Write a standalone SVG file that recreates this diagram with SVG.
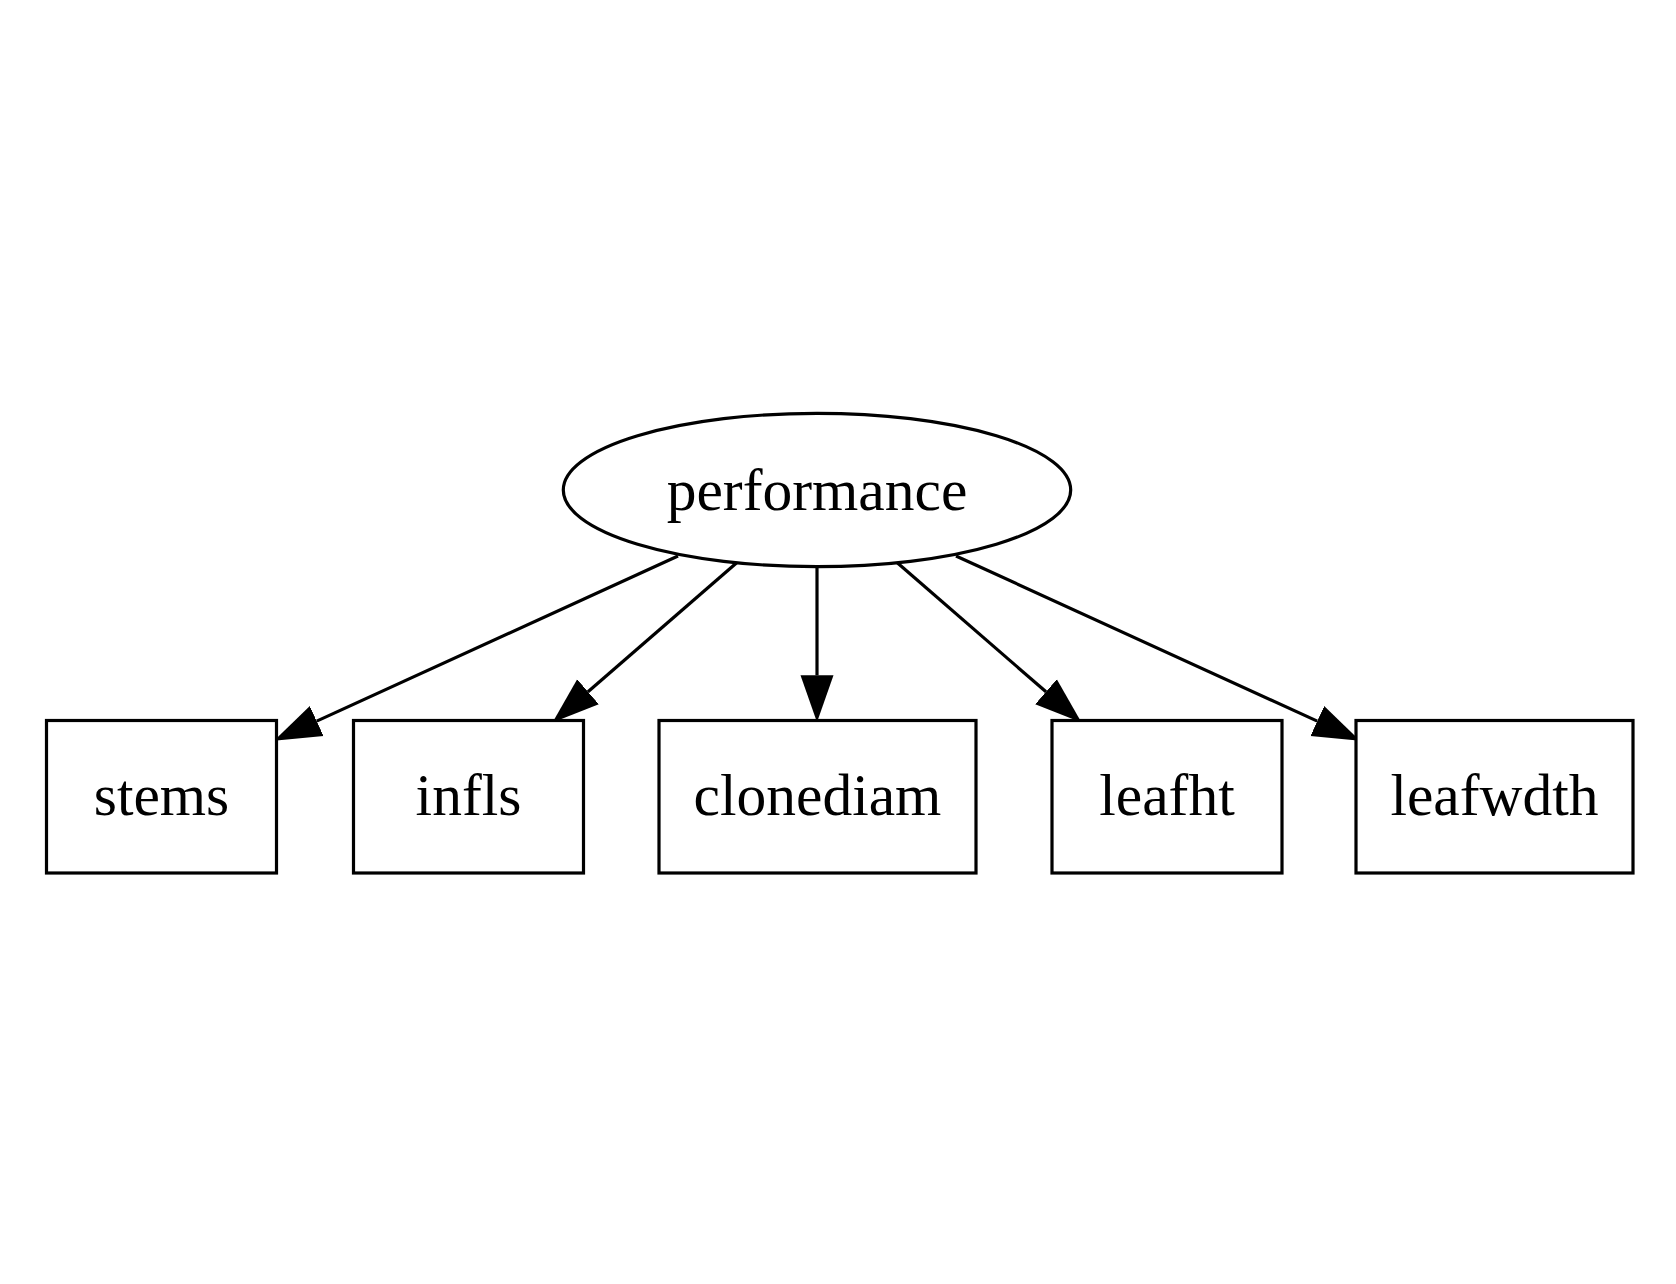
<svg xmlns="http://www.w3.org/2000/svg" width="1676" height="1284" viewBox="0 0 1676 1284">
<style>
.shape{fill:#ffffff;stroke:#000000;stroke-width:3.2}
.lbl{font-family:"Liberation Serif","Times New Roman",serif;font-size:59.5px;fill:#000000;text-anchor:middle}
.edge{stroke:#000000;stroke-width:3.2;fill:none}
</style>
<defs>
<marker id="arrow" markerUnits="userSpaceOnUse" markerWidth="50" markerHeight="40" viewBox="0 -20 50 40" refX="0" refY="0" orient="auto">
<path d="M0,-16.5 L47,0 L0,16.5 Z" fill="#000000" stroke="none"/>
</marker>
</defs>
<rect width="1676" height="1284" fill="#ffffff"/>
<g id="connectors">
<line class="edge" x1="678" y1="556" x2="316.7" y2="721.1" marker-end="url(#arrow)"/>
<line class="edge" x1="737" y1="562.5" x2="588" y2="691.8" marker-end="url(#arrow)"/>
<line class="edge" x1="817" y1="566.7" x2="817" y2="675.3" marker-end="url(#arrow)"/>
<line class="edge" x1="897" y1="562.5" x2="1046" y2="691.8" marker-end="url(#arrow)"/>
<line class="edge" x1="956" y1="556" x2="1317.3" y2="721.1" marker-end="url(#arrow)"/>
</g>
<g id="performance">
<ellipse class="shape" cx="817" cy="490" rx="253.7" ry="76.7"/>
<text class="lbl" x="817" y="510">performance</text>
</g>
<g id="stems">
<rect class="shape" x="46.5" y="720.5" width="230" height="152.5"/>
<text class="lbl" x="161.5" y="815">stems</text>
</g>
<g id="infls">
<rect class="shape" x="353.5" y="720.5" width="230" height="152.5"/>
<text class="lbl" x="468.5" y="815">infls</text>
</g>
<g id="clonediam">
<rect class="shape" x="659" y="720.5" width="317" height="152.5"/>
<text class="lbl" x="817.5" y="815">clonediam</text>
</g>
<g id="leafht">
<rect class="shape" x="1052" y="720.5" width="230" height="152.5"/>
<text class="lbl" x="1167" y="815">leafht</text>
</g>
<g id="leafwdth">
<rect class="shape" x="1356" y="720.5" width="277" height="152.5"/>
<text class="lbl" x="1494.5" y="815">leafwdth</text>
</g>
</svg>
